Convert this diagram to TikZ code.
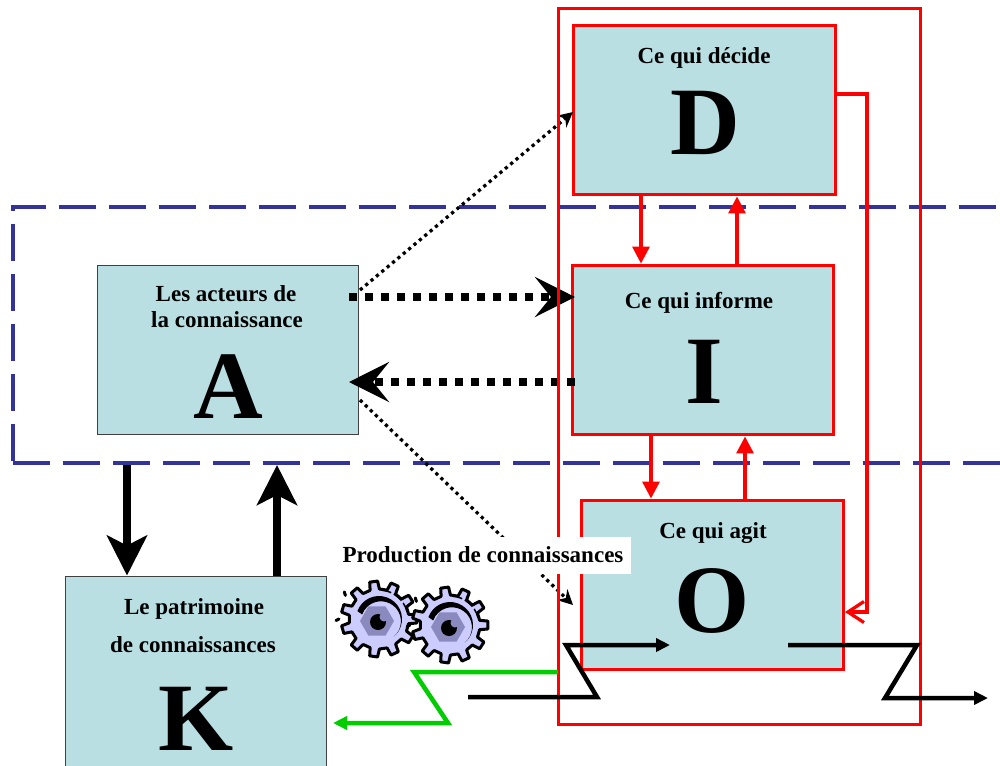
\documentclass[tikz,border=0pt]{standalone}
\usepackage{fontspec}
\setmainfont{Liberation Serif}
\usetikzlibrary{arrows.meta}
\definecolor{boxteal}{HTML}{B9DFE2}
\definecolor{dashblue}{HTML}{333399}
\definecolor{gearlav}{HTML}{CCCCFF}
\definecolor{geardark}{HTML}{8A8ABF}
\definecolor{flowgreen}{HTML}{00CC00}
\tikzset{
  redbox/.style={draw=red,line width=0.06cm,fill=boxteal,minimum width=5.24cm,minimum height=3.4cm,inner sep=0pt},
  greybox/.style={draw=black!75,line width=0.02cm,fill=boxteal,minimum width=5.24cm,minimum height=3.4cm,inner sep=0pt},
  title/.style={font=\bfseries\fontsize{13.1}{15}\selectfont,inner sep=0pt,anchor=base},
  letter/.style={font=\bfseries\fontsize{55}{60}\selectfont,inner sep=0pt,anchor=base},
  redline/.style={draw=red,line width=0.065cm,-{Triangle[length=0.34cm,width=0.34cm]}},
  flow/.style={line width=0.09cm,-{Triangle[length=0.28cm,width=0.26cm]}},
  bigarrow/.style={line width=0.17cm,-{Stealth[length=0.8cm,width=0.8cm,inset=0.2cm]}},
  fatdots/.style={line width=0.16cm,dash pattern=on 0.16cm off 0.16cm,-{Stealth[length=0.8cm,width=0.8cm,inset=0.32cm]}},
  thindots/.style={line width=0.065cm,dash pattern=on 0.065cm off 0.075cm,-{Stealth[length=0.3cm,width=0.3cm,inset=0.1cm]}},
  dashline/.style={draw=dashblue,line width=0.09cm,dash pattern=on 0.74cm off 0.26cm},
  gear/.pic={
    \draw[line width=0.06cm,line cap=round] (-145:41) -- (-142:44) (180:40) -- (178:43);
    \draw[fill=gearlav,line width=0.06cm,line join=round]
      (-9:30)\foreach \n in {0,...,10}{ -- (\n*32.727-9:30) -- (\n*32.727-6:38) -- (\n*32.727+6:38) -- (\n*32.727+9:30) -- (\n*32.727+23.7:30)} -- cycle;
    \fill[geardark] (-2,2) ++(0:17)\foreach \b in {60,120,...,300}{ -- ++(\b+60:17)} -- cycle;
    \fill (-160:23) arc (-160:50:23) arc (50:-160:20) -- cycle;
    \draw[line width=0.03cm,dash pattern=on 0.2cm off 0.06cm] (-85:29) arc (-85:-15:29);
    \fill (-1,3) circle (8);
    \fill[geardark] (5,-2) circle (4.5);
  }
}
\begin{document}
\begin{tikzpicture}[x=0.02cm,y=-0.02cm]
  \useasboundingbox (0,0) rectangle (1000,765);
  \clip (0,0) rectangle (1000,765);
  % fixed points
  \coordinate (dashA) at (1046,207);
  \coordinate (dashB) at (13,207);
  \coordinate (dashC) at (13,463);
  \coordinate (dashD) at (1040,463);
  \coordinate (DIdown) at (641,230);
  \coordinate (IDup) at (737,230);
  \coordinate (IOdown) at (651,470);
  \coordinate (OIup) at (745,470);
  \coordinate (Dside) at (867,94);
  \coordinate (Oside) at (867,612);
  \coordinate (dotsD) at (360,290);
  \coordinate (dotsDend) at (573,112);
  \coordinate (dotsO) at (360,400);
  \coordinate (dotsOend) at (573,605);
  \coordinate (fatout) at (349,297);
  \coordinate (fatin) at (575,382);
  \coordinate (fatend) at (349,382);
  \coordinate (AKdown) at (127,465);
  \coordinate (KAup) at (277,465);
  \coordinate (inA) at (468,697);
  \coordinate (inB) at (597,697);
  \coordinate (inC) at (566,645);
  \coordinate (inD) at (670,645);
  \coordinate (outA) at (788,645);
  \coordinate (outB) at (917,645);
  \coordinate (outC) at (885,698);
  \coordinate (outD) at (988,698);
  \coordinate (greenA) at (558,672);
  \coordinate (greenB) at (414,672);
  \coordinate (greenC) at (448,723);
  \coordinate (greenD) at (333,723);
  % boxes
  \node[redbox] (D) at (704.5,110) {};
  \node[redbox] (I) at (703,350) {};
  \node[redbox] (O) at (712.5,585) {};
  \node[greybox] (A) at (228,350) {};
  \node[greybox,minimum height=4cm] (K) at (196,676) {};
  \draw[dashline] (dashA) -- (dashB) -- (dashC);
  \draw[dashline] (dashC) -- (dashD);
  % texts
  \node[title] (Dtitle) at (704,63) {Ce qui décide};
  \node[letter] (Dletter) at (705,154) {D};
  \node[title] (Ititle) at (699,308) {Ce qui informe};
  \node[letter] (Iletter) at (704,403) {I};
  \node[title] (Otitle) at (713,538) {Ce qui agit};
  \node[letter] (Oletter) at (712,632) {O};
  \node[title] (Atitle) at (226,301) {Les acteurs de};
  \node[title] (Atitleb) at (227,327) {la connaissance};
  \node[letter] (Aletter) at (228,418) {A};
  \node[title] (Ktitle) at (194,614) {Le patrimoine};
  \node[title] (Ktitleb) at (193,652) {de connaissances};
  \node[letter] (Kletter) at (196,750) {K};
  % links between boxes
  \draw[redline] (D.south -| DIdown) -- (I.north -| DIdown);
  \draw[redline] (I.north -| IDup) -- (D.south -| IDup);
  \draw[redline] (I.south -| IOdown) -- (O.north -| IOdown);
  \draw[redline] (O.north -| OIup) -- (I.south -| OIup);
  \draw[draw=red,line width=0.065cm,-{Straight Barb[length=0.32cm,width=0.42cm]}] (D.east |- Dside) -- (Dside) -- (Oside) -- (O.east |- Oside);
  \draw[thindots] (dotsD) -- (dotsDend);
  \draw[thindots] (dotsO) -- (dotsOend);
  \draw[fatdots] (fatout) -- (fatin |- fatout);
  \draw[fatdots] (fatin) -- (fatend);
  \draw[bigarrow] (AKdown) -- (K.north -| AKdown);
  \draw[bigarrow] (K.north -| KAup) -- (KAup);
  \draw[draw=red,line width=0.06cm] (558,8) rectangle (920,724);
  % flows
  \draw[flow] (inA) -- (inB) -- (inC) -- (inD);
  \draw[flow] (outA) -- (outB) -- (outC) -- (outD);
  \draw[flow,draw=flowgreen] (greenA) -- (greenB) -- (greenC) -- (greenD);
  % gears
  \pic at (379,619) {gear};
  \pic at (450,625) {gear};
  \node[title,anchor=center,fill=white,minimum width=5.92cm,minimum height=0.74cm] (prod) at (483,555) {Production de connaissances};
\end{tikzpicture}
\end{document}
